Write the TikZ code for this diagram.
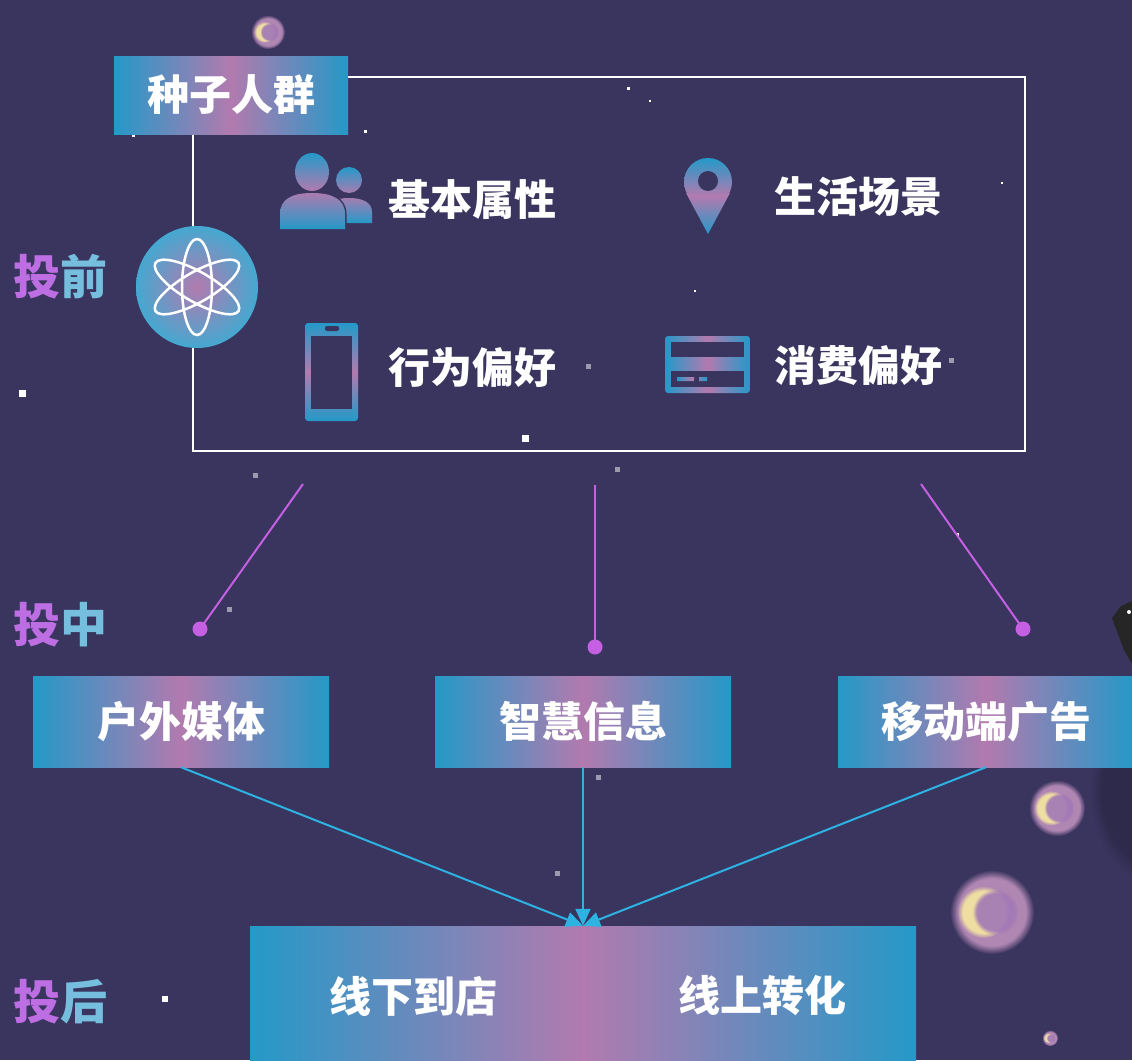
\documentclass[tikz,border=0pt]{standalone}
\usepackage{fontspec}
\setmainfont{Noto Sans CJK SC}
\usetikzlibrary{arrows.meta,fadings}

\definecolor{bgpurple}{HTML}{3A355F}
\definecolor{boxblue}{HTML}{2499C8}
\definecolor{boxpink}{HTML}{B27AAF}
\definecolor{linepurple}{HTML}{C660E2}
\definecolor{linecyan}{HTML}{2DB2E2}
\definecolor{tagpurple}{HTML}{BD6EE2}
\definecolor{tagcyan}{HTML}{76BEDE}
\definecolor{orbyellow}{HTML}{F6E8A0}
\definecolor{orbpink}{HTML}{C595C2}
\definecolor{orbpurple}{HTML}{6E4CA6}

\tikzset{
    gradbox/.style={rectangle, inner sep=0pt, minimum width=296pt, minimum height=91pt,
        left color=boxblue, right color=boxblue, middle color=boxpink,
        text=white, font=\fontsize{42}{50}\selectfont\bfseries},
    feature/.style={text=white, font=\fontsize{42}{50}\selectfont\bfseries},
    stage/.style={font=\fontsize{47}{56}\selectfont\bfseries},
    pline/.style={linepurple, line width=2pt},
    cline/.style={linecyan, line width=2pt, -{Triangle[length=17pt, width=15pt]}},
    pdot/.style={circle, fill=linepurple, inner sep=0pt, minimum size=15pt},
    iconv/.style={top color=boxblue, bottom color=boxblue, middle color=boxpink},
    iconh/.style={left color=boxblue, right color=boxblue, middle color=boxpink},
}

% soft glowing ball: x, y, radius
\newcommand{\orb}[3]{
    \fill[orbpink, opacity=.85, path fading=circle with fuzzy edge 20 percent] (#1,#2) circle (#3pt);
    \fill[orbyellow, opacity=.9, path fading=circle with fuzzy edge 20 percent] (#1-0.2*#3,#2) circle (0.62*#3pt);
    \fill[orbpink!60!orbpurple, opacity=.9, path fading=circle with fuzzy edge 20 percent] (#1+0.08*#3,#2) circle (0.55*#3pt);
}

\begin{document}
\begin{tikzpicture}[x=1pt, y=-1pt]
    \fill[bgpurple] (0,0) rectangle (1132,1060);
    \useasboundingbox (0,0) rectangle (1132,1060);

    % stars
    \foreach \x/\y/\s in {22/393/7, 525/438/7, 165/999/6, 133/135/3, 365/131/3,
        628/88/3, 650/101/2, 1002/183/2, 695/291/2, 327/390/3, 957/534/3} {
        \fill[white] (\x-\s/2,\y-\s/2) rectangle +(\s,\s);
    }
    \foreach \x/\y/\s in {588/366/5, 951/360/5, 617/469/5, 255/475/5, 229/609/5,
        598/777/5, 557/873/5} {
        \fill[white, opacity=.5] (\x-\s/2,\y-\s/2) rectangle +(\s,\s);
    }

    \orb{268}{32}{17}
    \orb{1057}{808}{28}
    \orb{992}{912}{42}
    \orb{1050}{1038}{8}

    % dark object at the right edge
    \fill[black, opacity=.2, path fading=circle with fuzzy edge 20 percent] (1150,790) ellipse (60pt and 90pt);
    \fill[black!85] (1112,618) -- (1121,606) -- (1132,601) -- (1132,664) -- (1124,650) -- cycle;
    \fill[white] (1129,612) circle (2pt);

    % seed crowd frame
    \draw[white, line width=2pt] (193,77) rectangle (1025,451);
    \node[gradbox, minimum width=234pt, minimum height=78pt] (seed) at (231,95) {种子人群};

    % atom
    \shade[inner color=boxpink, outer color=boxblue!85!white] (197,287) circle (61pt);
    \draw[white, line width=2.5pt] (197,287) ellipse (15pt and 48pt);
    \draw[white, line width=2.5pt, rotate around={30:(197,287)}] (197,287) ellipse (48pt and 15pt);
    \draw[white, line width=2.5pt, rotate around={-30:(197,287)}] (197,287) ellipse (48pt and 15pt);

    % people
    \shade[iconv] (349,180) circle (13pt)
        (327,223) -- (327,212) .. controls (327,202) and (336,198) .. (349,198)
        .. controls (362,198) and (372,202) .. (372,212) -- (372,223) -- cycle;
    \draw[bgpurple, line width=3pt] (312,172) ellipse (17pt and 19pt)
        (280,229) -- (280,214) .. controls (280,199) and (292,193) .. (312,193)
        .. controls (332,193) and (345,199) .. (345,214) -- (345,229) -- cycle;
    \shade[iconv] (312,172) ellipse (17pt and 19pt)
        (280,229) -- (280,214) .. controls (280,199) and (292,193) .. (312,193)
        .. controls (332,193) and (345,199) .. (345,214) -- (345,229) -- cycle;

    % pin
    \shade[iconv] (708,182) circle (24pt) (730,193) -- (686,193) -- (708,234) -- cycle;
    \fill[bgpurple] (708,181) circle (10pt);

    % phone
    \shade[iconv, rounded corners=3pt] (305,323) rectangle (358,421);
    \fill[bgpurple] (311,336) rectangle (352,409);
    \fill[bgpurple, rounded corners=2pt] (325,326) rectangle (339,331);

    % card
    \shade[iconh, rounded corners=3pt] (665,336) rectangle (750,393);
    \fill[bgpurple] (671,342) rectangle (744,357);
    \fill[bgpurple] (671,371) rectangle (744,387);
    \shade[iconh] (677,377) rectangle (694,381) (699,377) rectangle (707,381);

    \node[feature] (basic) at (472,200) {基本属性};
    \node[feature] (scene) at (858,196) {生活场景};
    \node[feature] (behave) at (472,368) {行为偏好};
    \node[feature] (spend) at (858,366) {消费偏好};

    \node[stage] (before) at (60,277) {\textcolor{tagpurple}{投}\textcolor{tagcyan}{前}};
    \node[stage] (during) at (60,625) {\textcolor{tagpurple}{投}\textcolor{tagcyan}{中}};
    \node[stage] (after) at (60,1002) {\textcolor{tagpurple}{投}\textcolor{tagcyan}{后}};

    % channels
    \coordinate (p1) at (303,484);
    \coordinate (p2) at (595,485);
    \coordinate (p3) at (921,484);
    \node[pdot] (d1) at (200,629) {};
    \node[pdot] (d2) at (595,647) {};
    \node[pdot] (d3) at (1023,629) {};
    \draw[pline] (p1) -- (d1.center);
    \draw[pline] (p2) -- (d2.center);
    \draw[pline] (p3) -- (d3.center);

    \node[gradbox] (outdoor) at (181,721.5) {户外媒体};
    \node[gradbox] (smart) at (583,721.5) {智慧信息};
    \node[gradbox] (mobile) at (986,721.5) {移动端广告};

    % conversion
    \node[gradbox, minimum width=666pt, minimum height=134pt] (store) at (583,993) {};
    \node[feature] (offline) at (413,996) {线下到店};
    \node[feature] (online) at (762,996) {线上转化};

    \draw[cline] (outdoor.south) -- (store.north);
    \draw[cline] (smart.south) -- (store.north);
    \draw[cline] (mobile.south) -- (store.north);
\end{tikzpicture}
\end{document}
